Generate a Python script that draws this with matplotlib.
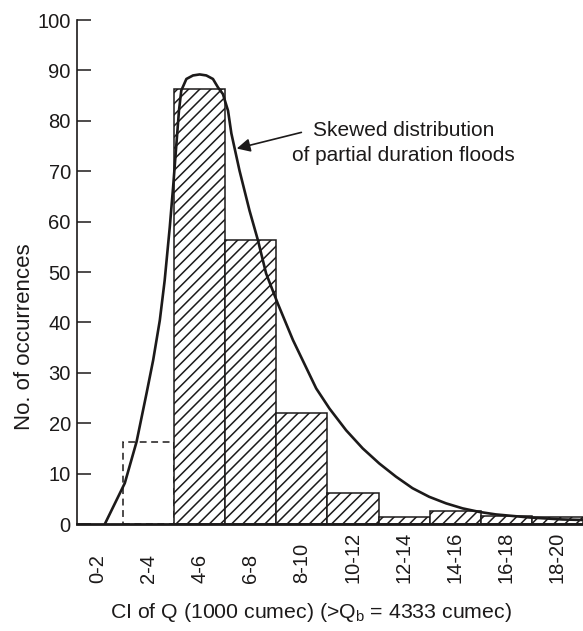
import matplotlib
matplotlib.use("Agg")
import matplotlib.pyplot as plt

plt.rcParams['font.family'] = ['Liberation Sans', 'DejaVu Sans']
plt.rcParams['mathtext.fontset'] = 'custom'
plt.rcParams['mathtext.rm'] = 'Liberation Sans'
plt.rcParams['mathtext.it'] = 'Liberation Sans:italic'
plt.rcParams['hatch.linewidth'] = 1.1

INK = '#1c1a1a'

# --- class intervals (1000 cumec) and counts ---
bins = ['0-2', '2-4', '4-6', '6-8', '8-10', '10-12', '12-14', '14-16', '16-18', '18-20']
observed = [86.4, 56.3, 22.0, 6.1, 1.3, 2.6, 1.5, 1.4]   # hatched bars, 4-6 .. 18-20
dashed_count = 16.2                                        # dashed bar, 2-4

# skewed distribution curve
curve_x = [1.29, 2.07, 2.53, 2.92, 3.18, 3.44, 3.63, 3.83, 3.96, 4.09, 4.19, 4.28,
           4.48, 4.74, 5.00, 5.26, 5.52, 5.72, 5.91, 6.11, 6.24, 6.56, 6.95, 7.28,
           7.60, 8.06, 8.65, 9.56, 10.08, 10.73, 11.38, 12.03, 12.68, 13.33, 13.98,
           14.64, 15.29, 15.94, 16.59, 17.24, 17.89, 18.54, 19.19, 19.96]
curve_y = [0.0, 8.1, 16.3, 25.9, 32.5, 40.4, 48.3, 58.9, 66.8, 75.4, 82.0, 86.0,
           88.3, 89.0, 89.2, 89.0, 88.3, 86.6, 85.3, 82.0, 77.5, 70.1, 62.2, 56.3,
           49.7, 43.7, 36.5, 26.9, 22.9, 18.6, 15.0, 12.0, 9.4, 7.1, 5.4,
           4.1, 3.1, 2.4, 1.9, 1.6, 1.3, 1.1, 0.9, 0.8]

lows = [int(b.split('-')[0]) for b in bins]
centres = [lo + 1 for lo in lows]

fig = plt.figure(figsize=(5.83, 6.31), dpi=100)
ax = fig.add_axes([77 / 583, 1 - 524 / 631, 506 / 583, 504 / 631])

# dashed 2-4 class
ax.bar(lows[1], dashed_count, width=2, align='edge', fill=False,
       edgecolor=INK, linewidth=1.1, linestyle=(0, (4.5, 3)), zorder=2)
# hatched classes
ax.bar(lows[2:], observed, width=2, align='edge', facecolor='white',
       edgecolor=INK, linewidth=1.1, hatch='///', zorder=3)

ax.plot(curve_x, curve_y, color=INK, linewidth=1.9, zorder=4,
        solid_capstyle='round', solid_joinstyle='round')

ax.annotate('', xy=(6.45, 74.5), xytext=(8.98, 77.7),
            arrowprops=dict(arrowstyle='-|>', color=INK, lw=1.2, mutation_scale=20,
                            shrinkA=0, shrinkB=0), zorder=5)
ax.text(12.97, 75.6, 'Skewed distribution\nof partial duration floods', ha='center',
        va='center', fontsize=15, color=INK, linespacing=1.45)

ax.set_xlim(0.2, 20.0)
ax.set_ylim(0, 100)
ax.set_yticks(range(0, 101, 10))
ax.set_xticks(centres)
ax.set_xticklabels(bins, rotation=90)
for lab in ax.get_xticklabels():
    lab.set_verticalalignment('bottom')

ax.tick_params(axis='y', direction='in', length=10, width=1.1, pad=4.5,
               labelsize=14.5, colors=INK)
ax.tick_params(axis='x', length=0, pad=42.5, labelsize=14.5, colors=INK)

for s in ['top', 'right']:
    ax.spines[s].set_visible(False)
ax.spines['left'].set_linewidth(1.2)
ax.spines['bottom'].set_linewidth(2.0)
ax.spines['left'].set_color(INK)
ax.spines['bottom'].set_color(INK)
ax.spines['bottom'].set_zorder(6)

ax.set_xlabel(r'CI of Q (1000 cumec) (>Q$_\mathrm{b}$ = 4333 cumec)', fontsize=15.3,
              labelpad=13, color=INK)
ax.xaxis.label.set_x(0.462)
ax.set_ylabel('No. of occurrences', fontsize=16, labelpad=2, color=INK)
ax.yaxis.label.set_y(0.371)

fig.savefig('out.png', dpi=100)
